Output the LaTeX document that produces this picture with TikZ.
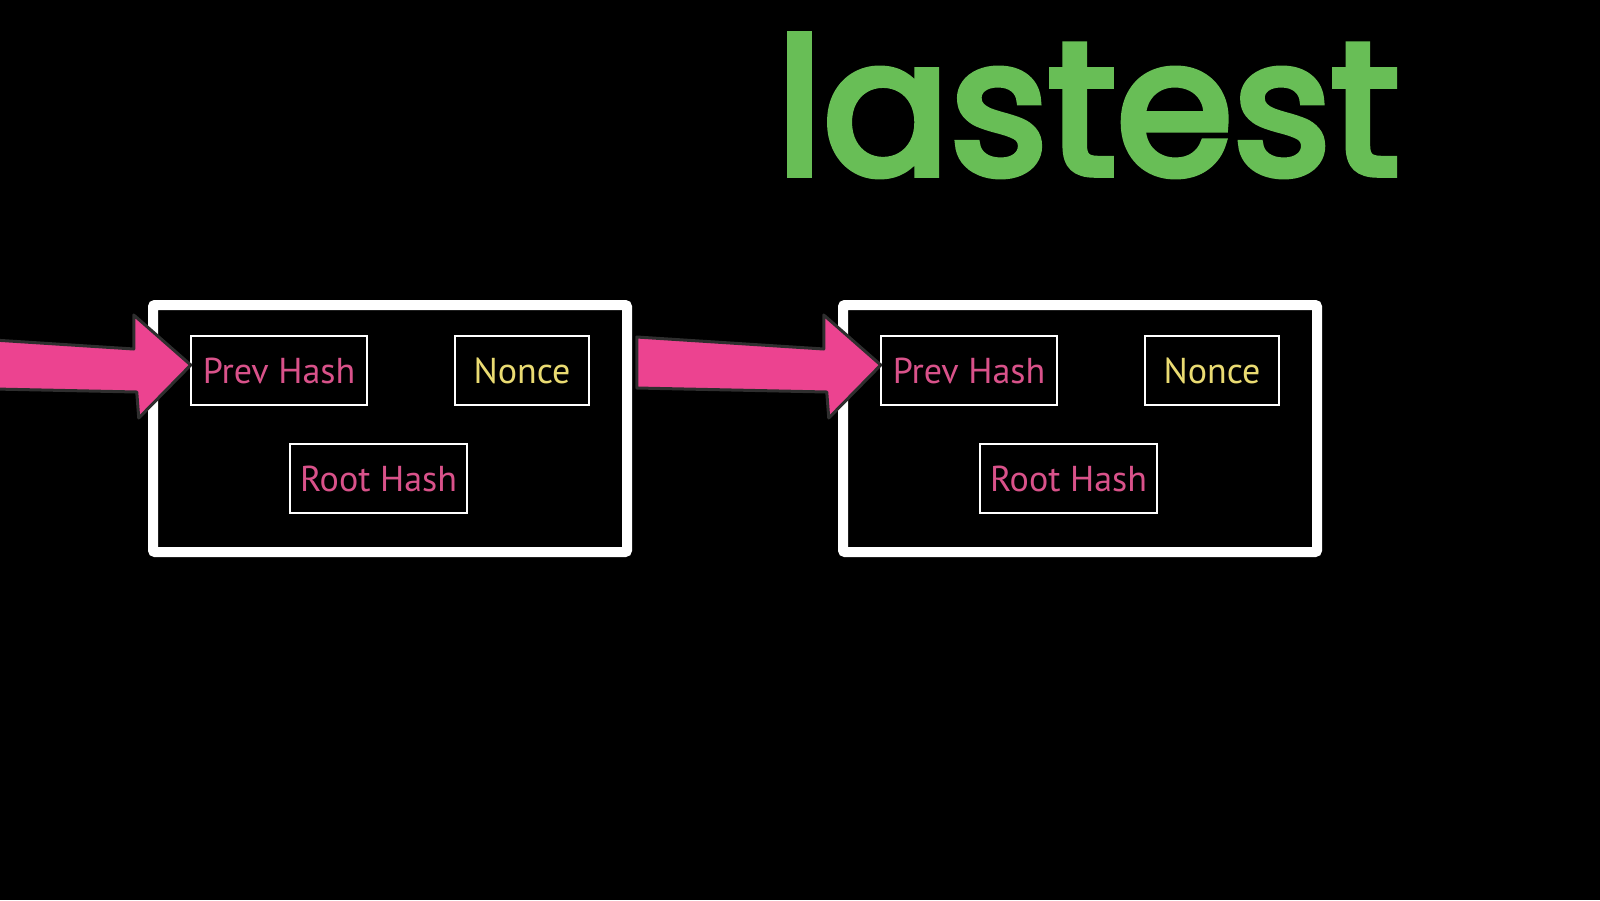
\documentclass[tikz,border=0pt]{standalone}
\usepackage{fontspec}
\setmainfont{PT Sans}
\newfontfamily\titlefont[FakeBold=4]{Poppins}
\definecolor{arrowpink}{HTML}{EC4390}
\definecolor{hashpink}{HTML}{D9528A}
\definecolor{nonceyellow}{HTML}{EADB72}
\definecolor{titlegreen}{HTML}{68BE56}
\definecolor{arrowedge}{HTML}{2E2E2E}
\tikzset{
  block/.style={draw=white, line width=10pt, rounded corners=2pt, minimum width=474pt, minimum height=247pt, inner sep=0pt},
  field/.style={draw=white, line width=2.5pt, minimum height=69pt, inner sep=0pt, text height=25pt, text depth=0pt, font=\fontsize{36}{40}\selectfont},
  hashfield/.style={field, text=hashpink},
  noncefield/.style={field, text=nonceyellow},
  bigarrow/.style={fill=arrowpink, draw=arrowedge, line width=3pt, line join=round},
  title/.style={text=titlegreen, font=\titlefont\fontsize{188}{200}\selectfont, inner sep=0pt}
}
\begin{document}
\begin{tikzpicture}[x=1pt,y=-1pt]
\fill[black] (0,0) rectangle (1600,900);
\useasboundingbox (0,0) rectangle (1600,900);
% title
\node[title, anchor=base] (ttl) at (1088,174) {lastest};
% blocks
\node[block] (blkA) at (390,428.5) {};
\node[block] (blkB) at (1080,428.5) {};
% fields block A
\node[hashfield, minimum width=176pt] (prevA) at (279,370.5) {Prev Hash};
\node[noncefield, minimum width=134pt] (nonceA) at (522,370.5) {Nonce};
\node[hashfield, minimum width=177pt] (rootA) at (378.5,478.5) {Root Hash};
% fields block B
\node[hashfield, minimum width=176pt] (prevB) at (969,370.5) {Prev Hash};
\node[noncefield, minimum width=134pt] (nonceB) at (1212,370.5) {Nonce};
\node[hashfield, minimum width=177pt] (rootB) at (1068.5,478.5) {Root Hash};
% arrows into Prev Hash
\begin{scope}[shift={(prevA.west)}]
\draw[bigarrow] (-243,-33.5) -- (-56,-21.5) -- (-56,-55.5) -- (1,-5.5) -- (-51,47.5) -- (-53,21.5) -- (-243,17.5) -- cycle;
\end{scope}
\begin{scope}[shift={(prevB.west)}]
\draw[bigarrow] (-243,-33.5) -- (-56,-21.5) -- (-56,-55.5) -- (1,-5.5) -- (-51,47.5) -- (-53,21.5) -- (-243,17.5) -- cycle;
\end{scope}
\end{tikzpicture}
\end{document}
